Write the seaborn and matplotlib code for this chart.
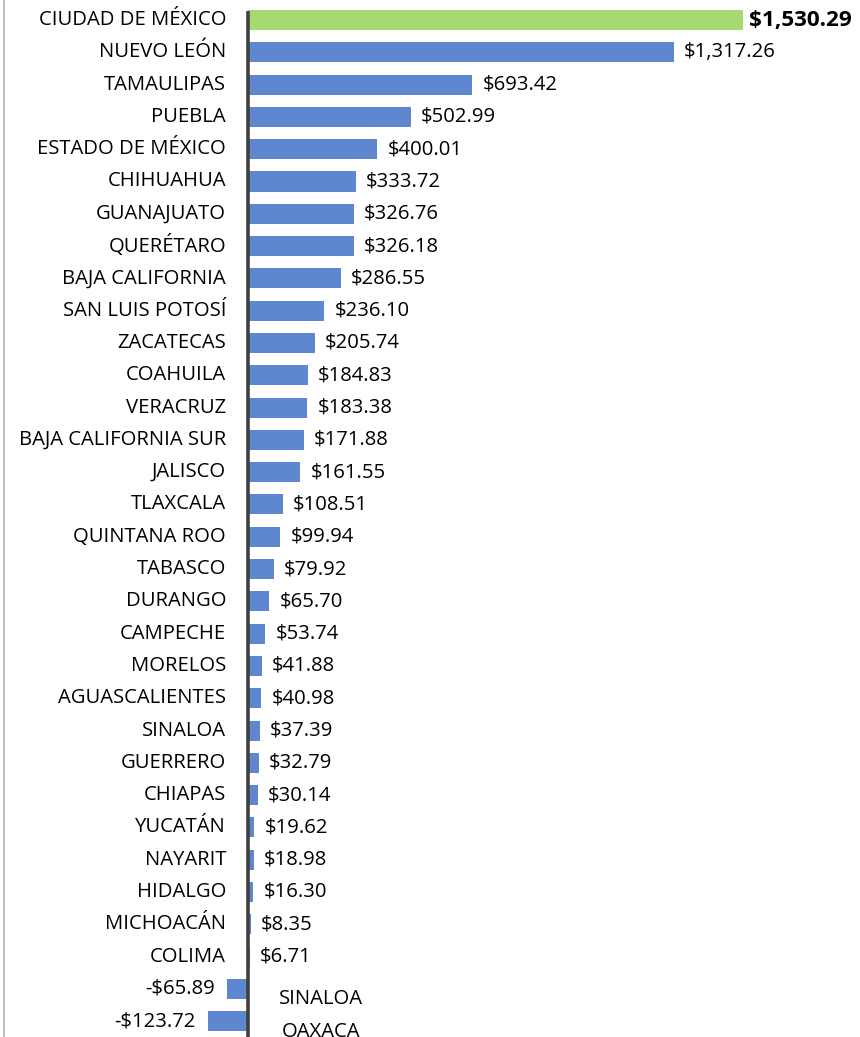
import matplotlib
matplotlib.use("Agg")
import matplotlib.pyplot as plt
import matplotlib.transforms as mtransforms
import seaborn as sns
import pandas as pd

states = ["CIUDAD DE MÉXICO", "NUEVO LEÓN", "TAMAULIPAS", "PUEBLA", "ESTADO DE MÉXICO",
          "CHIHUAHUA", "GUANAJUATO", "QUERÉTARO", "BAJA CALIFORNIA", "SAN LUIS POTOSÍ",
          "ZACATECAS", "COAHUILA", "VERACRUZ", "BAJA CALIFORNIA SUR", "JALISCO",
          "TLAXCALA", "QUINTANA ROO", "TABASCO", "DURANGO", "CAMPECHE", "MORELOS",
          "AGUASCALIENTES", "SINALOA", "GUERRERO", "CHIAPAS", "YUCATÁN", "NAYARIT",
          "HIDALGO", "MICHOACÁN", "COLIMA", "SINALOA ", "OAXACA"]
values = [1530.29, 1317.26, 693.42, 502.99, 400.01, 333.72, 326.76, 326.18, 286.55, 236.10,
          205.74, 184.83, 183.38, 171.88, 161.55, 108.51, 99.94, 79.92, 65.70, 53.74, 41.88,
          40.98, 37.39, 32.79, 30.14, 19.62, 18.98, 16.30, 8.35, 6.71, -65.89, -123.72]
highlight = "CIUDAD DE MÉXICO"

BLUE = "#5E87CF"
GREEN = "#A6D96F"

df = pd.DataFrame({"state": states, "value": values})
df["grp"] = ["hi" if s == highlight else "lo" for s in states]

sns.set_theme(style="white")
plt.rcParams["font.family"] = ["Open Sans", "DejaVu Sans"]

fig = plt.figure(figsize=(8.6, 10.37), dpi=100)
ax = fig.add_axes([0, 0, 1, 1])
sns.barplot(data=df, y="state", x="value", hue="grp", palette={"hi": GREEN, "lo": BLUE},
            orient="h", width=0.62, dodge=False, legend=False, ax=ax, order=states,
            linewidth=0, saturation=1)

ax.set_xlim(-767, 1892)
ax.set_ylim(31.49, -0.62)
ax.set_xticks([])
ax.set_yticks([])
ax.set_xlabel("")
ax.set_ylabel("")
for s in ax.spines.values():
    s.set_visible(False)

# zero axis line
ax.plot([0, 0], [-0.27, 31.49], color="#404040", lw=2.6, solid_capstyle="butt", zorder=5)
# left border
fig.add_artist(plt.Line2D([3.5 / 860, 3.5 / 860], [0, 1], color="#BFBFBF", lw=1.5))

fs = 14.6
for i, (s, v) in enumerate(zip(states, values)):
    if v >= 0:
        t = mtransforms.offset_copy(ax.transData, fig=fig, x=-22, y=0, units="dots")
        ax.text(0, i, s.strip(), transform=t, ha="right", va="center", fontsize=fs, color="#000000")
        tv = mtransforms.offset_copy(ax.transData, fig=fig, x=10 if i > 0 else 6, y=0, units="dots")
        lab = f"${v:,.2f}"
        ax.text(v, i, lab, transform=tv, ha="left", va="center",
                fontsize=fs + (1.6 if i == 0 else 0), fontweight="bold" if i == 0 else "normal",
                color="#000000")
    else:
        t = mtransforms.offset_copy(ax.transData, fig=fig, x=73, y=0, units="dots")
        ax.text(0, i + 0.32, s.strip(), transform=t, ha="center", va="center", fontsize=fs, color="#000000")
        tv = mtransforms.offset_copy(ax.transData, fig=fig, x=-12, y=0, units="dots")
        ax.text(v, i, f"-${abs(v):,.2f}", transform=tv, ha="right", va="center",
                fontsize=fs, color="#000000")

fig.savefig("out.png", dpi=100)
